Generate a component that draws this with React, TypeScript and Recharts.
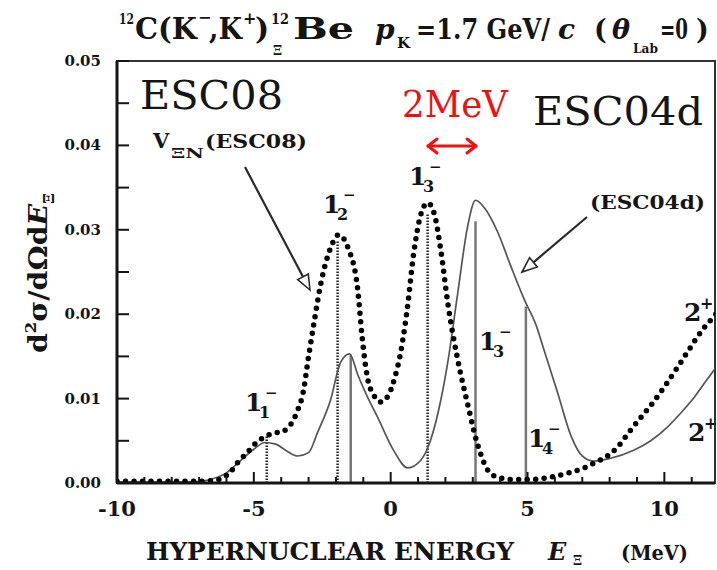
import React from 'react';
import { LineChart, Line, XAxis, YAxis, ReferenceLine, ReferenceArea } from 'recharts';

// Energy ticks (MeV) and cross-section ticks
const X_TICKS = [-10, -9, -8, -7, -6, -5, -4, -3, -2, -1, 0, 1, 2, 3, 4, 5, 6, 7, 8, 9, 10, 11];
const X_MAJOR = [-10, -5, 0, 5, 10];
const Y_TICKS = [0, 0.005, 0.01, 0.015, 0.02, 0.025, 0.03, 0.035, 0.04, 0.045, 0.05];
const Y_MAJOR = [0, 0.01, 0.02, 0.03, 0.04, 0.05];

// d2σ/dΩdE spectrum with the ESC08 ΞN potential: [E (MeV), value]
const ESC08_CURVE: [number, number][] = [
  [-10, 0.0002], [-9, 0.0002], [-8, 0.0002], [-7, 0.0002], [-6.5, 0.0003], [-6.2, 0.0005],
  [-5.86, 0.0013], [-5.57, 0.0025], [-5.24, 0.0036], [-5.0, 0.0045], [-4.58, 0.0055],
  [-4.28, 0.0059], [-3.96, 0.0061], [-3.6, 0.0072], [-3.4, 0.0086], [-3.2, 0.0107],
  [-3.0, 0.015], [-2.8, 0.019], [-2.56, 0.0235], [-2.2, 0.0278], [-1.9, 0.0294],
  [-1.55, 0.0278], [-1.2, 0.0228], [-1.05, 0.0175], [-0.85, 0.0125], [-0.6, 0.0103],
  [-0.37, 0.0096], [-0.1, 0.0103], [0.15, 0.0125], [0.35, 0.0152], [0.6, 0.0205],
  [0.84, 0.0272], [1.1, 0.0318], [1.35, 0.0332], [1.6, 0.0318], [1.83, 0.0276],
  [2.1, 0.021], [2.45, 0.0146], [2.8, 0.0095], [3.2, 0.0043], [3.6, 0.0013], [4.0, 0.0006],
  [4.5, 0.0004], [5.0, 0.0004], [5.5, 0.0005], [6.0, 0.0008], [6.5, 0.0012], [7.0, 0.0017],
  [7.45, 0.0024], [8.0, 0.0034], [8.3, 0.0043], [8.7, 0.006], [9.15, 0.0078], [9.6, 0.0096],
  [10.0, 0.0114], [10.5, 0.0138], [10.9, 0.0158], [11.4, 0.0182], [11.8, 0.0197], [12, 0.0205],
];

// Same spectrum with the ESC04d potential
const ESC04D_CURVE: [number, number][] = [
  [-10, 0.0001], [-8, 0.0001], [-7, 0.0002], [-6.5, 0.0005], [-6, 0.0012], [-5.5, 0.0026],
  [-5, 0.004], [-4.6, 0.0048], [-4.2, 0.0046], [-3.8, 0.0038], [-3.4, 0.0032], [-3.0, 0.0036],
  [-2.67, 0.006], [-2.2, 0.0098], [-1.83, 0.0143], [-1.5, 0.0153], [-1.2, 0.0128],
  [-0.85, 0.0102], [-0.48, 0.0078], [0.1, 0.0039], [0.62, 0.0018], [1.1, 0.0027],
  [1.46, 0.0051], [1.83, 0.0098], [2.1, 0.0146], [2.45, 0.0225], [2.8, 0.0302], [3.1, 0.0335],
  [3.45, 0.0325], [3.9, 0.0298], [4.4, 0.0256], [4.9, 0.0216], [5.3, 0.0188], [5.6, 0.0158],
  [6.1, 0.0107], [6.6, 0.0055], [7.0, 0.0032], [7.4, 0.0026], [8.0, 0.0029], [8.9, 0.0039],
  [9.5, 0.005], [10.1, 0.0066], [10.6, 0.0083], [11.1, 0.0102], [11.5, 0.012], [12, 0.0142],
];

// Individual 1⁻ levels: [E (MeV), strength]
const ESC08_LEVELS: [number, number][] = [[-4.53, 0.0055], [-1.94, 0.0288], [1.35, 0.0318]];
const ESC04D_LEVELS: [number, number][] = [[-1.46, 0.0152], [3.1, 0.031], [4.94, 0.0209]];

const esc08Data = ESC08_CURVE.map(([e, s]) => ({ e, s }));
const esc04dData = ESC04D_CURVE.map(([e, s]) => ({ e, s }));

const SERIF = '"DejaVu Serif", "Liberation Serif", serif';
const INK = '#151515';

function XTick(props: any) {
  const { x, y, payload } = props;
  const v = payload.value as number;
  const major = X_MAJOR.includes(v);
  return (
    <g>
      <line x1={x} x2={x} y1={y} y2={y - (major ? 11 : 6)} stroke={INK} strokeWidth={2} />
      {major && (
        <text x={x} y={y + 33} textAnchor="middle" fontFamily={SERIF} fontWeight="bold" fontSize={21} fill={INK}>
          {v}
        </text>
      )}
    </g>
  );
}

function YTick(props: any) {
  const { x, y, payload } = props;
  const v = payload.value as number;
  const major = Y_MAJOR.some((m) => Math.abs(m - v) < 1e-9);
  return (
    <g>
      <line x1={x} x2={x + 12} y1={y} y2={y} stroke={INK} strokeWidth={2} />
      {major && (
        <text x={x - 16} y={y + 5} textAnchor="end" fontFamily={SERIF} fontWeight="bold" fontSize={15} fill={INK}>
          {v.toFixed(2)}
        </text>
      )}
    </g>
  );
}

function T(p: {
  x: number; y: number; size: number; children: React.ReactNode; bold?: boolean; italic?: boolean;
  len?: number; color?: string;
}) {
  return (
    <text
      x={p.x}
      y={p.y}
      fontFamily={SERIF}
      fontSize={p.size}
      fontWeight={p.bold === false ? 'normal' : 'bold'}
      fontStyle={p.italic ? 'italic' : 'normal'}
      fill={p.color ?? INK}
      textLength={p.len}
      lengthAdjust={p.len ? 'spacingAndGlyphs' : undefined}
    >
      {p.children}
    </text>
  );
}

// A positioned piece inside a multi-part text line
function S(p: { x: number; y: number; size: number; children: React.ReactNode; italic?: boolean; len?: number }) {
  return (
    <tspan
      x={p.x}
      y={p.y}
      fontSize={p.size}
      fontStyle={p.italic ? 'italic' : 'normal'}
      textLength={p.len}
      lengthAdjust={p.len ? 'spacingAndGlyphs' : undefined}
    >
      {p.children}
    </tspan>
  );
}

function Arrow({ from, to }: { from: [number, number]; to: [number, number] }) {
  const dx = to[0] - from[0];
  const dy = to[1] - from[1];
  const len = Math.hypot(dx, dy);
  const ux = dx / len;
  const uy = dy / len;
  const head = 15;
  const half = 6;
  const bx = to[0] - ux * head;
  const by = to[1] - uy * head;
  const px = -uy;
  const py = ux;
  return (
    <g>
      <line x1={from[0]} y1={from[1]} x2={bx} y2={by} stroke="#2a2a2a" strokeWidth={2.2} />
      <polygon
        points={`${to[0]},${to[1]} ${bx + px * half},${by + py * half} ${bx - px * half},${by - py * half}`}
        fill="#fff"
        stroke="#2a2a2a"
        strokeWidth={1.6}
      />
    </g>
  );
}

// Level label like 1₁⁻ : main digit, subscript index, superscript parity
function Level({ x, y, sub, sup }: { x: number; y: number; sub: string; sup: string }) {
  return (
    <text fontFamily={SERIF} fontWeight="bold" fill={INK}>
      <S x={x} y={y} size={25}>1</S>
      <S x={x + 14} y={y + 7} size={16}>{sub}</S>
      <S x={x + 20} y={y - 13} size={15}>{sup}</S>
    </text>
  );
}

function Parity({ x, y, sup }: { x: number; y: number; sup: string }) {
  return (
    <text fontFamily={SERIF} fontWeight="bold" fill={INK}>
      <S x={x} y={y} size={25}>2</S>
      <S x={x + 16} y={y - 12} size={16}>{sup}</S>
    </text>
  );
}

function Annotations() {
  return (
    <svg width={717} height={570} style={{ position: 'absolute', left: 0, top: 0, pointerEvents: 'none' }}>
      {/* title */}
      <text fontFamily={SERIF} fontWeight="bold" fill={INK}>
        <S x={119} y={24} size={14} len={15}>12</S>
        <S x={135} y={39} size={30} len={62}>C(K</S>
        <S x={198} y={23} size={16}>−</S>
        <S x={209} y={39} size={30} len={33}>,K</S>
        <S x={243} y={24} size={16}>+</S>
        <S x={255} y={39} size={30}>)</S>
        <S x={271} y={24} size={14} len={18}>12</S>
        <S x={273} y={55} size={13}>Ξ</S>
        <S x={293} y={39} size={30} len={61}>Be</S>
      </text>
      <text fontFamily={SERIF} fontWeight="bold" fill={INK}>
        <S x={375} y={39} size={28} italic>p</S>
        <S x={397} y={48} size={15}>K</S>
        <S x={416} y={39} size={27} len={134}>=1.7 GeV/</S>
        <S x={558} y={39} size={28} italic>c</S>
      </text>
      <text fontFamily={SERIF} fontWeight="bold" fill={INK}>
        <S x={594} y={39} size={27}>(</S>
        <S x={612} y={39} size={27} italic>θ</S>
        <S x={633} y={53} size={13} len={25}>Lab</S>
        <S x={660} y={39} size={27} len={28}>=0</S>
        <S x={696} y={39} size={27}>)</S>
      </text>

      {/* axis titles */}
      <text
        transform="translate(47,353) rotate(-90)"
        fontFamily={SERIF}
        fontWeight="bold"
        fontSize={26}
        fill={INK}
        textLength={160}
        lengthAdjust="spacingAndGlyphs"
      >
        d<tspan fontSize={15} dy={-11}>2</tspan>
        <tspan dy={11}>σ/dΩd</tspan>
        <tspan fontStyle="italic">E</tspan>
        <tspan fontSize={14} dy={7}>Ξ</tspan>
      </text>
      <T x={146} y={560} size={24} len={368}>HYPERNUCLEAR ENERGY</T>
      <text fontFamily={SERIF} fontWeight="bold" fill={INK}>
        <S x={548} y={560} size={24} italic>E</S>
        <S x={573} y={565} size={13}>Ξ</S>
      </text>
      <T x={621} y={560} size={20} len={67}>(MeV)</T>

      {/* model names */}
      <T x={140} y={109} size={40} bold={false} len={143}>ESC08</T>
      <T x={402} y={117} size={38} bold={false} len={106} color="#ee1111">2MeV</T>
      <T x={533} y={125} size={40} bold={false} len={170}>ESC04d</T>

      {/* 2 MeV marker */}
      <g stroke="#ee1111" strokeWidth={3} fill="none" strokeLinecap="round" strokeLinejoin="round">
        <line x1={428} y1={146} x2={476} y2={146} />
        <polyline points="437,139 428,146 437,153" />
        <polyline points="467,139 476,146 467,153" />
      </g>

      {/* potential labels with pointers */}
      <text fontFamily={SERIF} fontWeight="bold" fill={INK}>
        <S x={153} y={148} size={21}>V</S>
        <S x={171} y={158} size={13} len={33}>ΞN</S>
        <S x={205} y={148} size={19} len={102}>(ESC08)</S>
      </text>
      <Arrow from={[245, 167]} to={[310, 290]} />
      <T x={590} y={209} size={19} len={115}>(ESC04d)</T>
      <Arrow from={[587, 217]} to={[522, 272]} />

      {/* level labels */}
      <Level x={245} y={411} sub="1" sup="−" />
      <Level x={323} y={213} sub="2" sup="−" />
      <Level x={409} y={185} sub="3" sup="−" />
      <Level x={479} y={350} sub="3" sup="−" />
      <Level x={528} y={447} sub="4" sup="−" />
      <Parity x={684} y={321} sup="+" />
      <Parity x={688} y={441} sup="+" />
    </svg>
  );
}

export default function App() {
  return (
    <div style={{ position: 'absolute', left: 0, top: 0, width: 717, height: 570, background: '#fff' }}>
      <LineChart width={717} height={570} margin={{ top: 61, right: 2, bottom: 0, left: 0 }}>
        <XAxis
          type="number"
          dataKey="e"
          domain={[-10, 11.85]}
          allowDataOverflow
          ticks={X_TICKS}
          interval={0}
          height={87}
          tickSize={0}
          tickMargin={0}
          tickLine={false}
          tick={<XTick />}
          axisLine={{ stroke: INK, strokeWidth: 3 }}
        />
        <YAxis
          type="number"
          dataKey="s"
          domain={[0, 0.05]}
          allowDataOverflow
          ticks={Y_TICKS}
          interval={0}
          width={117}
          tickSize={0}
          tickMargin={0}
          tickLine={false}
          tick={<YTick />}
          axisLine={{ stroke: INK, strokeWidth: 3 }}
        />
        <ReferenceArea x1={-10} x2={11.85} y1={0} y2={0.05} fill="none" stroke="#333" strokeWidth={2} />
        {ESC04D_LEVELS.map(([e, h]) => (
          <ReferenceLine
            key={`s${e}`}
            segment={[{ x: e, y: 0 }, { x: e, y: h }]}
            stroke="#777"
            strokeWidth={2.5}
          />
        ))}
        {ESC08_LEVELS.map(([e, h]) => (
          <ReferenceLine
            key={`d${e}`}
            segment={[{ x: e, y: 0 }, { x: e, y: h }]}
            stroke="#222"
            strokeWidth={2.5}
            strokeDasharray="1.5 1.5"
          />
        ))}
        <Line
          data={esc04dData}
          dataKey="s"
          type="monotone"
          stroke="#555"
          strokeWidth={1.7}
          dot={false}
          isAnimationActive={false}
        />
        <Line
          data={esc08Data}
          dataKey="s"
          type="monotone"
          stroke="#000"
          strokeWidth={5.5}
          strokeDasharray="0 8.5"
          strokeLinecap="round"
          dot={false}
          isAnimationActive={false}
        />
      </LineChart>
      <Annotations />
    </div>
  );
}
